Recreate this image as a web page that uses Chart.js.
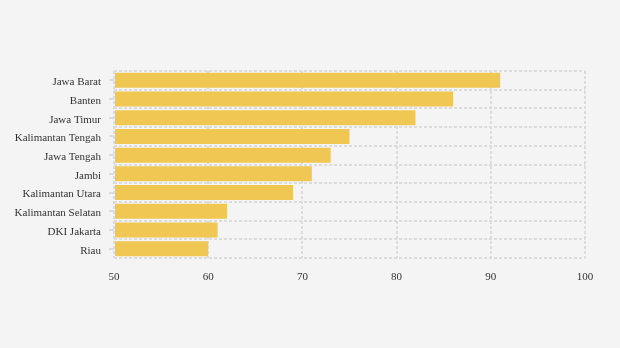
<!DOCTYPE html>
<html>
<head>
<meta charset="utf-8">
<script src="https://cdn.jsdelivr.net/npm/chart.js@4/dist/chart.umd.min.js"></script>
<style>
html,body{margin:0;padding:0;background:#f4f4f4;}
#wrap{width:620px;height:348px;position:relative;}
</style>
</head>
<body>
<div id="wrap"><canvas id="c" width="620" height="348"></canvas></div>
<script>
const categories = ["Jawa Barat","Banten","Jawa Timur","Kalimantan Tengah","Jawa Tengah","Jambi","Kalimantan Utara","Kalimantan Selatan","DKI Jakarta","Riau"];
const values = [91,86,82,75,73,71,69,62,61,60];
const xTicks = [50,60,70,80,90,100];

const gridColor = '#dcdcdc';
const font = {family:'"Liberation Serif","Times New Roman",serif', size:11};

new Chart(document.getElementById('c'), {
  type:'bar',
  data:{
    labels:categories,
    datasets:[{data:values, backgroundColor:'#f0c752', borderWidth:0, barPercentage:0.8, categoryPercentage:1, base:50}]
  },
  options:{
    indexAxis:'y',
    responsive:false,
    animation:false,
    layout:{padding:{left:0,right:35,top:71,bottom:60}},
    plugins:{legend:{display:false},tooltip:{enabled:false}},
    scales:{
      x:{
        type:'linear', min:50, max:100,
        afterBuildTicks:(s)=>{s.ticks = xTicks.map(v=>({value:v}));},
        afterFit:(s)=>{s.height=30;},
        grid:{color:gridColor, drawTicks:false, lineWidth:2},
        border:{display:false, dash:[3,2]},
        ticks:{color:'#333', font:font, padding:13}
      },
      y:{
        type:'category',
        afterFit:(s)=>{s.width=114;},
        grid:{offset:false, drawOnChartArea:false, drawTicks:true, tickLength:5, tickColor:'#dcdcdc', color:gridColor, lineWidth:2},
        border:{display:false},
        ticks:{color:'#333', font:font, padding:8, labelOffset:2}
      },
      y2:{
        type:'category',
        labels:categories,
        position:'right',
        afterFit:(s)=>{s.width=0;},
        grid:{offset:true, drawTicks:false, color:gridColor, lineWidth:2},
        border:{display:false, dash:[3,2]},
        ticks:{display:false}
      }
    }
  },
  plugins:[{
    id:'bg',
    beforeDraw:(chart)=>{
      const ctx=chart.ctx; ctx.save(); ctx.fillStyle='#f4f4f4'; ctx.fillRect(0,0,chart.width,chart.height); ctx.restore();
    }
  }]
});
</script>
</body>
</html>
